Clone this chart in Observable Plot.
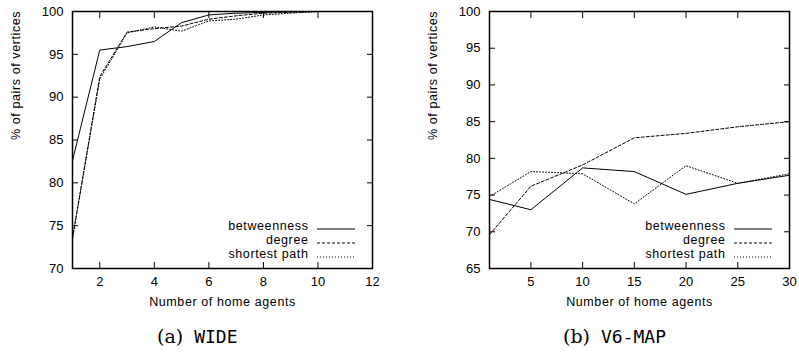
<!DOCTYPE html>
<html><head><meta charset="utf-8">
<script src="https://cdn.jsdelivr.net/npm/d3@7"></script>
<script src="https://cdn.jsdelivr.net/npm/@observablehq/plot@0.6"></script>
<style>
body{margin:0;background:#fff;}
#wrap{position:relative;width:799px;height:353px;overflow:hidden;font-family:"Liberation Sans",Arial,sans-serif;}
.panel{position:absolute;top:0;}
.cap{position:absolute;top:325px;white-space:nowrap;line-height:22px;color:#000;}
.cap .s{font-family:"DejaVu Serif","Liberation Serif",serif;font-size:19px;display:inline-block;margin-right:11px;}
.cap .m{font-family:"DejaVu Sans Mono","Liberation Mono",monospace;font-size:18px;display:inline-block;}
</style></head><body>
<div id="wrap">
  <div id="left" class="panel" style="left:0px"></div>
  <div id="right" class="panel" style="left:400px"></div>
  <div class="cap" style="left:157px"><span class="s">(a)</span><span class="m">WIDE</span></div>
  <div class="cap" style="left:563px"><span class="s">(b)</span><span class="m">V6-MAP</span></div>
</div>
<script>
// ---- data ----
const seriesNames = ["betweenness", "degree", "shortest path"];

const wideX = [1,2,3,4,5,6,7,8,9,10,11,12];
const wideBetweenness = [82.6,95.5,95.9,96.5,98.7,99.6,99.8,99.9,100,100,100,100];
const wideDegree      = [73.5,92.4,97.6,98.0,98.3,99.1,99.5,99.8,99.9,100,100,100];
const wideShortest    = [73.6,92.1,97.5,98.2,97.7,98.9,99.1,99.6,99.8,100,100,100];
const wideXTicks = [2,4,6,8,10,12];
const wideYTicks = [70,75,80,85,90,95,100];

const v6X = [1,5,10,15,20,25,30];
const v6Betweenness = [74.4,73.0,78.7,78.2,75.1,76.6,77.7];
const v6Degree      = [69.6,76.2,79.1,82.8,83.4,84.3,85.0];
const v6Shortest    = [74.8,78.2,77.9,73.8,79.0,76.6,77.9];
const v6XTicks = [5,10,15,20,25,30];
const v6YTicks = [65,70,75,80,85,90,95,100];

const xLabel = "Number of home agents";
const yLabel = "% of pairs of vertices";

const dashes = {"betweenness": null, "degree": "3,2", "shortest path": "1,2"};

function rows(xs, lists) {
  const out = [];
  lists.forEach((vals, i) => vals.forEach((v, j) => out.push({series: seriesNames[i], x: xs[j], y: v})));
  return out;
}

function panel(el, opts) {
  const data = rows(opts.xs, opts.lists);
  const font = "'Liberation Sans', Arial, sans-serif";
  const chart = Plot.plot({
    width: opts.width, height: 318,
    marginLeft: opts.ml, marginRight: opts.mr, marginTop: 11, marginBottom: 50,
    style: {fontFamily: font, fontSize: "13px", background: "#fff", color: "#000"},
    x: {domain: opts.xDomain, ticks: opts.xTicks},
    y: {domain: opts.yDomain, ticks: opts.yTicks},
    marks: [
      ...seriesNames.map(s => Plot.line(data.filter(d => d.series === s), {
        x: "x", y: "y", stroke: "#000", strokeWidth: 1, strokeDasharray: dashes[s]
      })),
      Plot.axisY(opts.yTicks, {tickSize: 0, tickPadding: 9, label: null, fontSize: 13}),
      Plot.axisY(opts.yTicks, {anchor: "left", tickSize: -6, tickFormat: () => "", label: null}),
      Plot.axisY(opts.yTicks, {anchor: "right", tickSize: -6, tickFormat: () => "", label: null}),
      Plot.axisX(opts.xTicks, {tickSize: 0, tickPadding: 8, label: null, fontSize: 13}),
      Plot.axisX(opts.xTicks, {anchor: "bottom", tickSize: -6, tickFormat: () => "", label: null}),
      Plot.axisX(opts.xTicks, {anchor: "top", tickSize: -6, tickFormat: () => "", label: null}),
      Plot.frame({stroke: "#000", strokeWidth: 1.5}),
      Plot.text([xLabel], {frameAnchor: "bottom", dy: 37, fontSize: 12.5}),
      Plot.text([yLabel], {frameAnchor: "left", dx: -57, rotate: -90, fontSize: 12.5}),
      ...seriesNames.map((s, i) => Plot.text([s], {frameAnchor: "bottom-right", dx: -64, dy: -39 + i * 14, textAnchor: "end", fontSize: 12.5}))
    ]
  });
  el.appendChild(chart);
  const svg = d3.select(chart);
  svg.selectAll('g[aria-label="text"] text').attr("letter-spacing", "0.6px");
  // legend line samples
  const right = opts.width - opts.mr, bottom = 318 - 50;
  seriesNames.forEach((s, i) => {
    svg.append("line")
      .attr("x1", right - 55).attr("x2", right - 17)
      .attr("y1", bottom - 39 + i * 14).attr("y2", bottom - 39 + i * 14)
      .attr("stroke", "#000").attr("stroke-width", 1)
      .attr("stroke-dasharray", dashes[s]);
  });
}

panel(document.getElementById("left"), {
  width: 400, ml: 72, mr: 28,
  xs: wideX, lists: [wideBetweenness, wideDegree, wideShortest],
  xDomain: [1, 12], yDomain: [70, 100], xTicks: wideXTicks, yTicks: wideYTicks
});
panel(document.getElementById("right"), {
  width: 399, ml: 89, mr: 10,
  xs: v6X, lists: [v6Betweenness, v6Degree, v6Shortest],
  xDomain: [1, 30], yDomain: [65, 100], xTicks: v6XTicks, yTicks: v6YTicks
});
</script>
</body></html>
